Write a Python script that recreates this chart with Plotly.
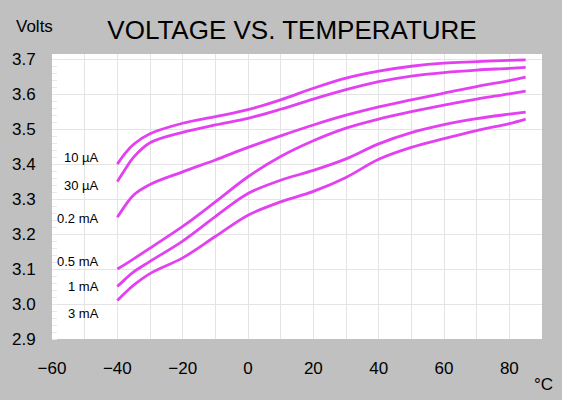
import plotly.graph_objects as go

temps = [-40, -37.5, -35, -30, -20, -10, 0, 10, 20, 30, 40, 50, 60, 70, 80, 85]

v_10uA = [3.400, 3.432, 3.457, 3.487, 3.517, 3.536, 3.556, 3.584, 3.617, 3.646, 3.666, 3.680, 3.689, 3.693, 3.697, 3.698]
v_30uA = [3.350, 3.387, 3.420, 3.461, 3.491, 3.512, 3.531, 3.557, 3.586, 3.613, 3.636, 3.652, 3.662, 3.669, 3.674, 3.677]
v_02mA = [3.248, 3.283, 3.312, 3.342, 3.378, 3.412, 3.448, 3.481, 3.512, 3.540, 3.564, 3.584, 3.603, 3.622, 3.639, 3.649]
v_05mA = [3.100, 3.114, 3.129, 3.160, 3.222, 3.292, 3.364, 3.422, 3.467, 3.503, 3.529, 3.550, 3.569, 3.586, 3.601, 3.609]
v_1mA = [3.050, 3.072, 3.092, 3.122, 3.180, 3.250, 3.316, 3.354, 3.382, 3.415, 3.458, 3.490, 3.513, 3.530, 3.543, 3.549]
v_3mA = [3.010, 3.033, 3.054, 3.087, 3.132, 3.193, 3.254, 3.292, 3.322, 3.362, 3.414, 3.448, 3.473, 3.496, 3.516, 3.529]

series = [v_10uA, v_30uA, v_02mA, v_05mA, v_1mA, v_3mA]
labels = ["10 µA", "30 µA", "0.2 mA", "0.5 mA", "1 mA", "3 mA"]
label_y = [3.420, 3.339, 3.244, 3.122, 3.049, 2.974]
label_x = -45.1

x_ticks = [-60, -40, -20, 0, 20, 40, 60, 80]
y_ticks = [2.9, 3.0, 3.1, 3.2, 3.3, 3.4, 3.5, 3.6, 3.7]

LINE = "#E340F2"
FONT = "Liberation Sans, Arial, sans-serif"

fig = go.Figure()
for s, name in zip(series, labels):
    fig.add_trace(go.Scatter(x=temps, y=s, mode="lines", name=name,
                             line=dict(color=LINE, width=2.8, shape="spline", smoothing=1.0),
                             showlegend=False, hoverinfo="skip"))

for name, ly in zip(labels, label_y):
    fig.add_annotation(x=label_x, y=ly, xref="x", yref="y", text=name, showarrow=False,
                       xanchor="right", yanchor="middle", font=dict(size=13, color="black", family=FONT))

fig.add_annotation(x=-0.0769, y=1.098, xref="paper", yref="paper", text="Volts", showarrow=False,
                   xanchor="left", yanchor="middle", font=dict(size=17, color="black", family=FONT))
fig.add_annotation(x=1.004, y=-0.161, xref="paper", yref="paper", text="°C", showarrow=False,
                   xanchor="center", yanchor="middle", font=dict(size=17, color="black", family=FONT))

fig.update_layout(
    width=562, height=400,
    margin=dict(l=48, r=20, t=54, b=61),
    paper_bgcolor="#C0C0C0", plot_bgcolor="white",
    font=dict(family=FONT, color="black"),
    title=dict(text="VOLTAGE VS. TEMPERATURE", x=292/562, xanchor="center",
               y=1-30/400, yanchor="middle", yref="container",
               font=dict(size=26, color="black", family=FONT)),
)
fig.update_xaxes(range=[-60, 90], tickvals=x_ticks, showgrid=True, gridcolor="#E4E4E4", gridwidth=1,
                 minor=dict(dtick=10, tick0=-60, showgrid=True, gridcolor="#E4E4E4"),
                 zeroline=False, showline=False, ticks="outside", ticklen=14,
                 tickcolor="rgba(0,0,0,0)", tickfont=dict(size=17, color="black", family=FONT))
fig.update_yaxes(range=[2.9, 3.715], tickvals=y_ticks, tickformat=".1f", showgrid=True,
                 gridcolor="#E4E4E4", gridwidth=1, zeroline=False, showline=False,
                 ticks="outside", ticklen=12, tickcolor="rgba(0,0,0,0)",
                 minor=dict(dtick=0.02, tick0=2.9, ticks="inside", ticklen=5, tickcolor="#E8E8E8", showgrid=False),
                 tickfont=dict(size=17, color="black", family=FONT))

fig.write_html("out.html", config={"displayModeBar": False},
               post_script="document.body.style.margin='0';document.body.style.overflow='hidden';")
